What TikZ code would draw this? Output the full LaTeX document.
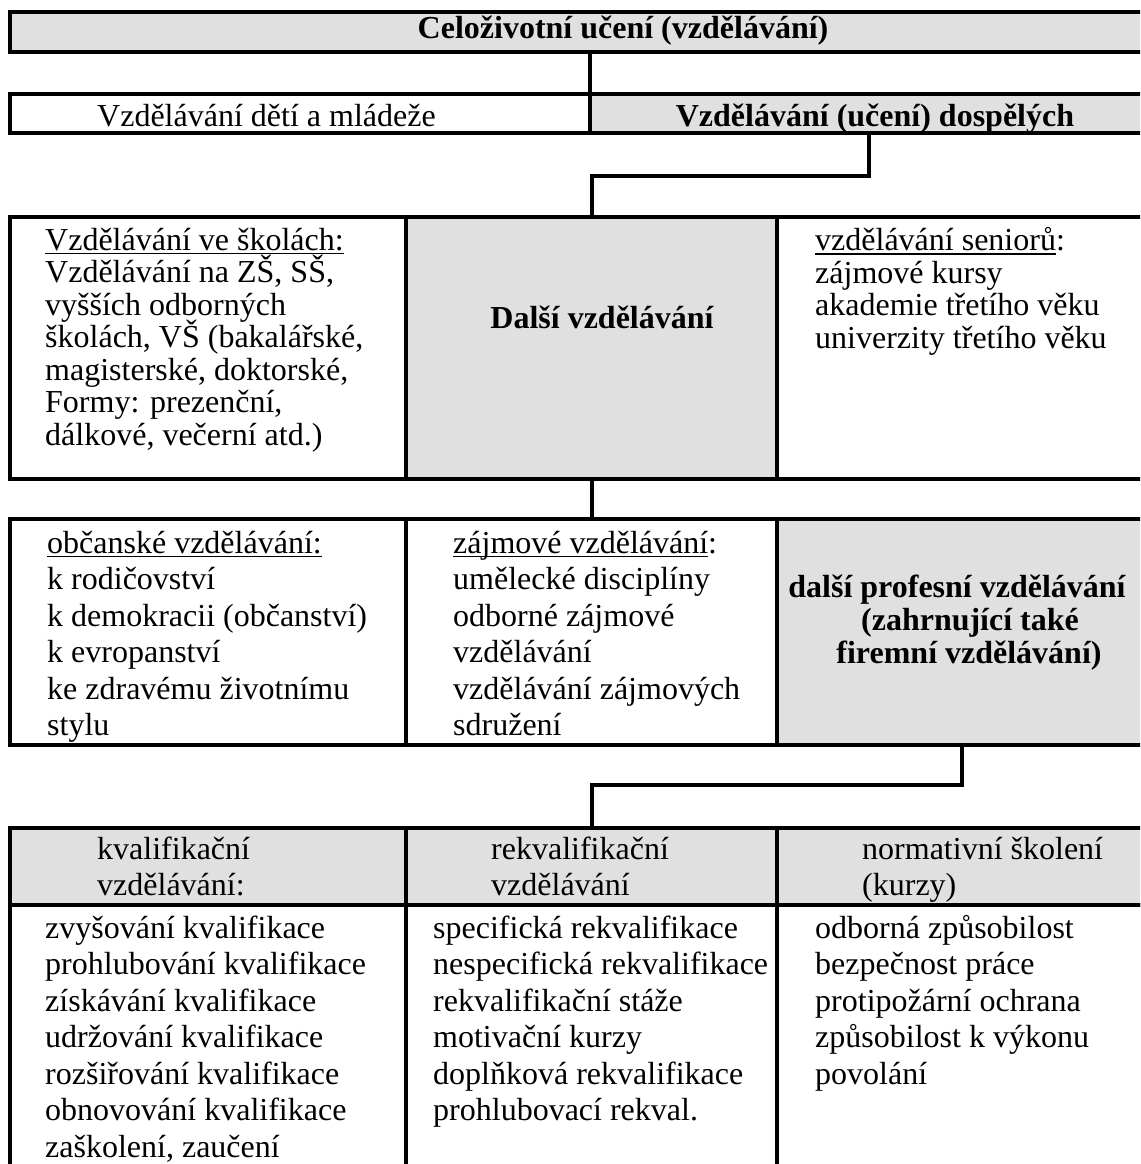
\documentclass[tikz,border=0pt]{standalone}
\usepackage{fontspec}
\setmainfont{Liberation Serif}
\definecolor{cellgrey}{RGB}{224,224,224}
\newcommand\bodyfont{\fontsize{32}{36.5}\selectfont\lineskiplimit=-100pt\relax}
\newcommand\tightfont{\fontsize{32}{32.5}\selectfont\lineskiplimit=-100pt\relax}
\newcommand\boldfont{\fontsize{32}{33}\selectfont\bfseries\lineskiplimit=-100pt\relax}
\newcommand\ulx[1]{\sbox0{#1}\rlap{\rule[-4pt]{\wd0}{1.6pt}}\usebox0}
\tikzset{
  cell/.style={draw, line width=4pt, rectangle, inner sep=0pt, outer sep=0pt},
  greycell/.style={cell, fill=cellgrey},
  txt/.style={inner sep=0pt, anchor=north west, align=left, font=\bodyfont},
  ttxt/.style={txt, font=\tightfont},
  btxt/.style={inner sep=0pt, anchor=base, font=\boldfont},
  conn/.style={line width=4pt, line join=miter}
}
\begin{document}
\begin{tikzpicture}[x=1pt,y=-1pt]
\useasboundingbox (0,0) rectangle (1140,1164);
\begin{scope}
\clip (0,0) rectangle (1140,1164);
% cells
\node[greycell, minimum width=1140pt, minimum height=40pt] (top) at (580,32) {};
\node[cell, minimum width=580pt, minimum height=39pt] (r2a) at (300,113.5) {};
\node[greycell, minimum width=560pt, minimum height=39pt] (r2b) at (870,113.5) {};
\node[cell, minimum width=396pt, minimum height=262pt] (r3a) at (208,348) {};
\node[greycell, minimum width=371pt, minimum height=262pt] (r3b) at (591.5,348) {};
\node[cell, minimum width=373pt, minimum height=262pt] (r3c) at (963.5,348) {};
\node[cell, minimum width=396pt, minimum height=226pt] (r4a) at (208,632) {};
\node[cell, minimum width=371pt, minimum height=226pt] (r4b) at (591.5,632) {};
\node[greycell, minimum width=373pt, minimum height=226pt] (r4c) at (963.5,632) {};
\node[greycell, minimum width=396pt, minimum height=77pt] (h1) at (208,866.5) {};
\node[greycell, minimum width=371pt, minimum height=77pt] (h2) at (591.5,866.5) {};
\node[greycell, minimum width=373pt, minimum height=77pt] (h3) at (963.5,866.5) {};
\node[cell, minimum width=396pt, minimum height=280pt] (b1) at (208,1045) {};
\node[cell, minimum width=371pt, minimum height=280pt] (b2) at (591.5,1045) {};
\node[cell, minimum width=373pt, minimum height=280pt] (b3) at (963.5,1045) {};
% connectors
\coordinate (k2) at (869,176);
\coordinate (k4) at (962,785);
\draw[conn] (r2b.north west |- top.south) -- (r2b.north west);
\draw[conn] (k2 |- r2b.south) -- (k2) -| (r3b.north);
\draw[conn] (r3b.south) -- (r4b.north);
\draw[conn] (k4 |- r4c.south) -- (k4) -| (h2.north);
% texts
\node[btxt] (t0) at (623,38) {Celoživotní učení (vzdělávání)};
\node[txt, anchor=base west] (t2a) at (97,126) {Vzdělávání dětí a mládeže};
\node[btxt] (t2b) at (875,126) {Vzdělávání (učení) dospělých};
\node[ttxt] (t3a) at (45,227.25) {\strut\ulx{Vzdělávání ve školách:}\\
\strut Vzdělávání na ZŠ, SŠ,\\
\strut vyšších odborných\\
\strut školách, VŠ (bakalářské,\\
\strut magisterské, doktorské,\\
\strut Formy: prezenční,\\
\strut dálkové, večerní atd.)};
\node[btxt] (t3b) at (602,328) {Další vzdělávání};
\node[ttxt] (t3c) at (815,227.25) {\strut\ulx{vzdělávání seniorů}:\\
\strut zájmové kursy\\
\strut akademie třetího věku\\
\strut univerzity třetího věku};
\node[txt] (t4a) at (47,527.45) {\strut\ulx{občanské vzdělávání:}\\
\strut k rodičovství\\
\strut k demokracii (občanství)\\
\strut k evropanství\\
\strut ke zdravému životnímu\\
\strut stylu};
\node[txt] (t4b) at (453,527.45) {\strut\ulx{zájmové vzdělávání}:\\
\strut umělecké disciplíny\\
\strut odborné zájmové\\
\strut vzdělávání\\
\strut vzdělávání zájmových\\
\strut sdružení};
\node[inner sep=0pt, anchor=north, align=center, font=\boldfont] (t4c) at (957,573.9) {\strut další profesní vzdělávání\\
\strut\hspace*{26pt}(zahrnující také\\
\strut\hspace*{24pt}firemní vzdělávání)};
\node[txt] (t5h1) at (97,833.45) {\strut kvalifikační\\ \strut vzdělávání:};
\node[txt] (t5h2) at (491,833.45) {\strut rekvalifikační\\ \strut vzdělávání};
\node[txt] (t5h3) at (862,833.45) {\strut normativní školení\\ \strut (kurzy)};
\node[txt] (t5b1) at (45,912.45) {\strut zvyšování kvalifikace\\
\strut prohlubování kvalifikace\\
\strut získávání kvalifikace\\
\strut udržování kvalifikace\\
\strut rozšiřování kvalifikace\\
\strut obnovování kvalifikace\\
\strut zaškolení, zaučení};
\node[txt] (t5b2) at (433,912.45) {\strut specifická rekvalifikace\\
\strut nespecifická rekvalifikace\\
\strut rekvalifikační stáže\\
\strut motivační kurzy\\
\strut doplňková rekvalifikace\\
\strut prohlubovací rekval.};
\node[txt] (t5b3) at (815,912.45) {\strut odborná způsobilost\\
\strut bezpečnost práce\\
\strut protipožární ochrana\\
\strut způsobilost k výkonu\\
\strut povolání};
\end{scope}
\end{tikzpicture}
\end{document}
